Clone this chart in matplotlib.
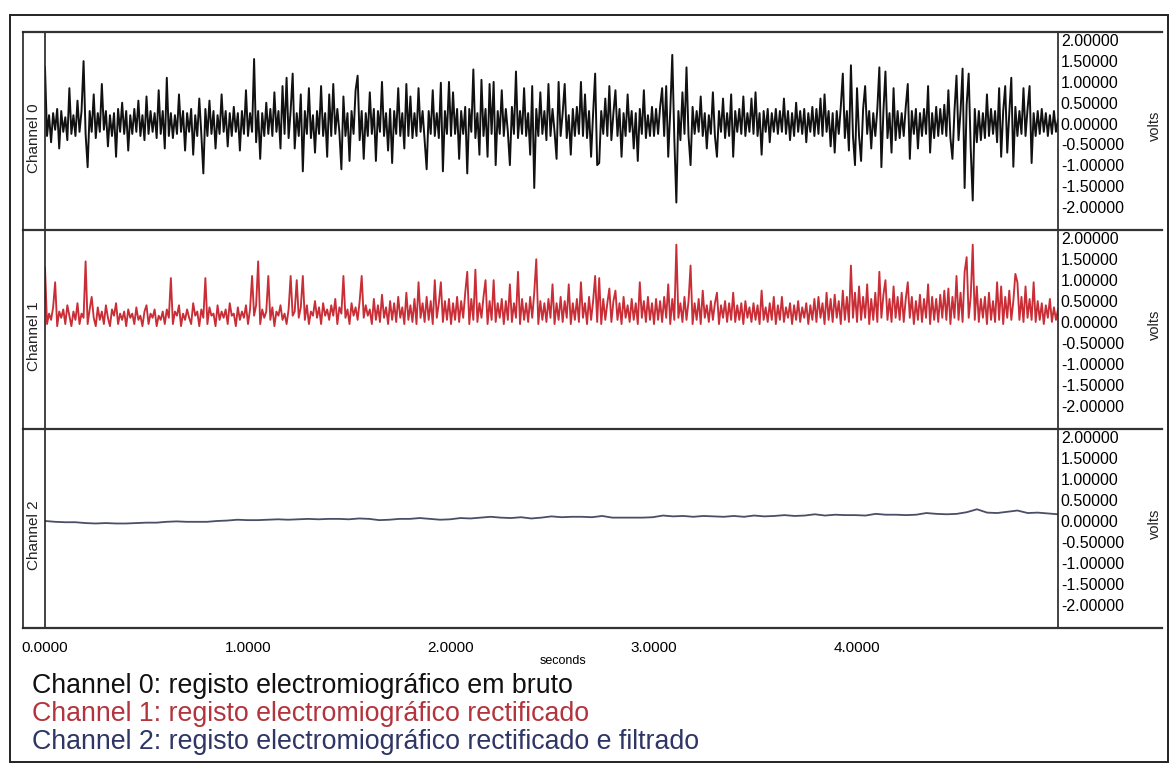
import matplotlib
matplotlib.use('Agg')
import matplotlib.pyplot as plt
from matplotlib.lines import Line2D
from matplotlib.patches import Rectangle
import numpy as np

plt.rcParams['font.family'] = ['Liberation Sans', 'DejaVu Sans']

W, H = 1172, 767
DURATION = 4.99  # seconds shown on the time axis

# Samples below are in hundredths of a volt, evenly spaced over DURATION.
# Channel 0: raw EMG
ch0_cv = [
    135, -30, 20, -45, 25, -15, 35, -60, 30, -20, 15, -40, 85, -25, 20, -30, 55, -20, 30, 150,
    -25, -105, 30, -20, 70, -35, 25, -20, 95, -15, 30, -55, 20, -30, 25, -80, 35, -20, 50, -25,
    30, -65, 20, -25, 35, -20, 55, -30, 20, -40, 65, -25, 30, -20, 25, -35, 80, -25, 30, -60,
    110, -30, 25, -35, 20, -25, 70, -20, 30, -65, 25, -20, 35, -75, 20, -30, 60, -25, -120, 35,
    -30, 55, -25, 30, -60, 20, -25, 70, -20, 30, -55, 25, -30, 40, -20, 25, -65, 30, -25, 80,
    -30, 25, -20, 155, -45, 30, -85, 25, -30, 50, -25, 35, -30, 75, -20, 30, -60, 90, -25, 110,
    -35, 30, 120, -60, 25, -30, 70, -115, 30, -25, 85, -35, 20, -70, 30, -25, 90, -30, 25, -80,
    70, -30, 95, -25, 35, -20, -110, 65, -30, 25, -90, 30, -25, 80, 115, -40, 30, -85, 25, -30,
    75, -25, 35, -90, 30, -20, 100, -30, 25, -65, 35, -95, 30, -25, 85, -30, 25, -60, 95, -30,
    65, -35, 25, -30, 85, -20, 30, -40, -110, 30, -25, 80, -30, 25, -35, 98, -115, 30, -25, 100,
    -30, 75, -25, 35, -85, 30, -25, 40, -120, 35, -20, 130, -35, 25, -75, 105, -30, 35, -80, 95,
    -25, 100, -100, 30, -25, 80, -30, 35, -20, -100, 40, -25, 125, -35, 30, -25, 85, -30, 25, -75,
    90, -155, 35, -30, 75, -25, 30, -40, 95, -30, 35, -20, -85, 100, -30, 25, 95, -35, 20, -75,
    35, -30, 40, -25, 100, -30, 70, -35, 30, -80, 25, 120, -100, -95, 30, -25, 60, -30, 90, -40,
    25, 80, -30, 35, -80, 25, -30, 70, -20, 30, -60, 25, -90, 35, -25, 80, -35, 20, -30, 40,
    -30, 35, -25, 40, 85, -30, 90, -80, 30, 165, -35, -190, 30, -40, 75, -25, 135, -30, -100, 40,
    -25, 30, -20, 65, -30, 25, -60, 20, -25, 75, -30, -80, 30, -20, 60, -35, 25, -30, 70, -80,
    30, -20, 35, -25, 65, -30, 25, -20, 60, -25, 75, -30, 25, -75, 30, -20, 35, -45, 25, -20,
    35, -25, 30, -20, 60, -25, 30, -40, 25, -30, 50, -20, 30, -25, 35, -45, 25, -20, 40, -30,
    35, -25, 60, -30, 70, -20, 30, -55, 25, -70, 30, -25, 40, 120, -35, 30, -65, 140, -30, -100,
    85, -30, -90, 35, 90, -25, 30, -60, 25, -30, 35, 135, -105, 30, 125, -35, 25, -70, 85, -40,
    30, -35, 25, -30, 40, 95, -85, 30, -25, 35, -60, 25, -30, 35, -25, 90, -70, 25, -35, 40,
    -30, 35, -25, 45, -30, 80, -35, -85, 30, 115, -40, 30, 132, -155, 45, 120, -60, -185, 35, -45,
    30, -40, 25, -35, 70, -30, 35, -25, 30, -45, 85, -80, 30, 90, -70, 25, 110, -104, 40, -30,
    30, -25, 85, -30, 35, 90, -95, 25, -30, 30, -25, 35, -20, 25, -30, 20, -25, 30, -20, 10,
]

# Channel 1: rectified EMG
ch1_cv = [
    130, -5, 20, 5, 35, 95, -10, 25, 10, 30, -5, 40, 15, -10, 25, 5, 45, -5, 20, 10,
    145, -5, 30, 60, 10, -10, 35, 5, 25, -5, 40, 10, -10, 30, 15, 45, -5, 20, 5, 25,
    -10, 30, 10, 20, -5, 35, 5, 15, -10, 25, 40, -5, 20, 10, 30, -10, 15, 5, 25, -5,
    30, 10, 105, -5, 25, 15, 40, -10, 20, 5, 30, 10, -5, 45, 15, 25, -10, 30, 10, 105,
    -5, 35, 15, 20, -10, 40, 5, 25, 10, 30, -5, 45, 15, 20, -10, 35, 5, 25, 10, 40,
    -5, 30, 110, 15, 40, 145, -5, 30, 10, 25, 110, 5, 35, -10, 25, 15, 40, 5, 20, -5,
    30, 110, 15, 25, 100, 10, 35, 110, 5, 40, -5, 25, 15, 50, 10, 35, -5, 45, 15, 30,
    5, 40, 15, 55, -5, 35, 20, 110, 10, 30, -5, 45, 15, 35, 5, 50, 110, 10, 40, 15,
    30, -5, 55, 5, 40, 0, 65, 10, 35, -5, 50, 5, 45, 0, 60, 10, 35, -5, 70, 5,
    40, 0, 55, -5, 95, 10, 45, 0, 60, 5, 50, -5, 100, 10, 45, 95, 0, 50, 5, 55,
    -5, 45, 5, 60, 0, 50, 10, 70, 120, -5, 55, 5, 125, 0, 45, 10, 60, 100, -5, 50,
    5, 100, 0, 45, 10, 55, -5, 50, 5, 90, 0, 45, 10, 120, -5, 55, 5, 45, 0, 60,
    10, 70, 150, -5, 50, 5, 45, 0, 55, 10, 90, -5, 45, 5, 60, 0, 50, 10, 90, -5,
    45, 5, 55, 0, 95, 10, 45, -5, 60, 5, 50, 110, 0, 105, -5, 55, 5, 45, 80, 0,
    50, 75, 5, 45, -5, 60, 10, 40, 0, 55, 5, 45, -5, 95, 10, 50, 0, 60, 5, 45,
    -5, 55, 5, 50, 0, 60, 10, 90, -5, 55, 5, 185, 10, 45, 0, 60, 5, 50, 135, -5,
    45, 5, 55, -5, 75, 10, 40, 0, 50, 5, 45, 70, -5, 40, 10, 50, 0, 45, 5, 70,
    0, 40, 5, 45, -5, 50, 10, 35, 0, 45, 5, 40, -5, 75, 5, 35, 0, 45, 5, 60,
    -5, 40, 5, 60, 0, 35, 10, 45, -5, 40, 5, 50, 0, 35, 10, 45, -5, 40, 5, 55,
    0, 60, 10, 45, -5, 70, 5, 55, 0, 65, 10, 50, -5, 75, 5, 60, 0, 135, 10, 70,
    0, 85, 5, 60, 10, 90, -5, 55, 5, 70, 0, 120, 10, 65, 100, 5, 55, 0, 85, 10,
    60, 5, 70, 0, 55, 95, 10, 60, -5, 50, 5, 65, 0, 55, 10, 90, -5, 60, 5, 55,
    0, 65, 10, 75, 5, 80, -5, 60, 10, 110, 5, 70, 0, 120, 155, 10, 60, 185, 5, 85,
    0, 55, 10, 60, -5, 70, 5, 50, 0, 95, 5, 85, -5, 60, 10, 75, 5, 50, 115, 95,
    5, 60, 0, 85, 10, 55, 5, 95, 0, 50, 5, 45, -5, 40, 10, 55, 0, 35, 5, 30,
]

# Channel 2: rectified and low-pass filtered EMG
ch2_cv = [
    0, -2, -3, -3, -5, -6, -5, -6, -6, -5, -4, -4, -2, -1, -2, -2, -2, 0, 1, 3,
    2, 2, 3, 4, 3, 4, 5, 4, 5, 5, 4, 6, 5, 2, 3, 5, 5, 7, 5, 3,
    4, 7, 6, 8, 10, 8, 7, 9, 6, 8, 11, 9, 10, 10, 9, 12, 8, 8, 8, 8,
    9, 13, 11, 12, 10, 12, 11, 10, 12, 10, 13, 11, 12, 14, 12, 13, 16, 13, 15, 14,
    14, 13, 17, 15, 15, 14, 15, 19, 17, 16, 17, 21, 28, 20, 19, 22, 25, 19, 20, 18,
    16,
]

channels = [ch0_cv, ch1_cv, ch2_cv]
channel_names = ['Channel 0', 'Channel 1', 'Channel 2']
line_colors = ['#111111', '#c92d36', '#4a4e66']
line_widths = [1.4, 1.35, 1.3]
text_colors = ['#111111', '#b3343d', '#2f3565']
descriptions = [
    'Channel 0: registo electromiográfico em bruto',
    'Channel 1: registo electromiográfico rectificado',
    'Channel 2: registo electromiográfico rectificado e filtrado',
]
volt_ticks = [2.0, 1.5, 1.0, 0.5, 0.0, -0.5, -1.0, -1.5, -2.0]
time_ticks = [0, 1, 2, 3, 4]


def fx(x):
    return x / W


def fy(y):
    return 1 - y / H


def hline(fig, x0, x1, y, lw=1.2, color='#222222'):
    fig.add_artist(Line2D([fx(x0), fx(x1)], [fy(y), fy(y)], lw=lw,
                          color=color, transform=fig.transFigure))


def vline(fig, x, y0, y1, lw=1.2, color='#222222'):
    fig.add_artist(Line2D([fx(x), fx(x)], [fy(y0), fy(y1)], lw=lw,
                          color=color, transform=fig.transFigure))


fig = plt.figure(figsize=(W / 100, H / 100), dpi=100)

plot_left, plot_right = 45, 1058
edges = [32, 230, 429, 628]

for k, samples in enumerate(channels):
    top, bottom = edges[k], edges[k + 1]
    ax = fig.add_axes([fx(plot_left), fy(bottom),
                       (plot_right - plot_left) / W, (bottom - top) / H])
    volts = np.array(samples) / 100.0
    t = np.linspace(0, DURATION, len(volts))
    ax.plot(t, volts, color=line_colors[k], lw=line_widths[k])
    ax.set_xlim(0, DURATION)
    ax.set_ylim(-2.56, 2.2)
    ax.yaxis.tick_right()
    ax.set_yticks(volt_ticks)
    ax.set_yticklabels(['%.5f' % v for v in volt_ticks])
    ax.tick_params(axis='y', length=0, pad=2, labelsize=11.5)
    for lab in ax.get_yticklabels():
        lab.set_horizontalalignment('left')
    ax.set_xticks(time_ticks)
    if k == 2:
        ax.set_xticklabels(['%.4f' % v for v in time_ticks])
        ax.tick_params(axis='x', length=0, pad=9, labelsize=11)
    else:
        ax.set_xticklabels([])
        ax.tick_params(axis='x', length=0)
    for side in ['top', 'bottom']:
        ax.spines[side].set_visible(False)
    for side in ['left', 'right']:
        ax.spines[side].set_linewidth(1.2)
        ax.spines[side].set_color('#222222')
    mid = (top + bottom) / 2
    fig.text(fx(34), fy(mid + 7), channel_names[k], rotation=90, ha='center',
             va='center', fontsize=11, color='#222222')
    fig.text(fx(1155), fy(mid - 5), 'volts', rotation=90, ha='center',
             va='center', fontsize=10.5, color='#222222')

# panel separators and the channel-name column
for y in edges:
    hline(fig, 23, 1162, y, lw=1.6, color='#333333')
vline(fig, 23, edges[0], edges[-1])

# outer frame
fig.add_artist(Rectangle((fx(10), fy(762)), fx(1158), (762 - 15) / H,
                         fill=False, lw=1.4, edgecolor='#222222',
                         transform=fig.transFigure))

fig.text(fx(563), fy(661), 'seconds', ha='center', va='center', fontsize=9)

for k, text in enumerate(descriptions):
    fig.text(fx(32), fy(686 + 28 * k), text, ha='left', va='center',
             fontsize=19.3, color=text_colors[k])

fig.savefig('out.png', dpi=100)
